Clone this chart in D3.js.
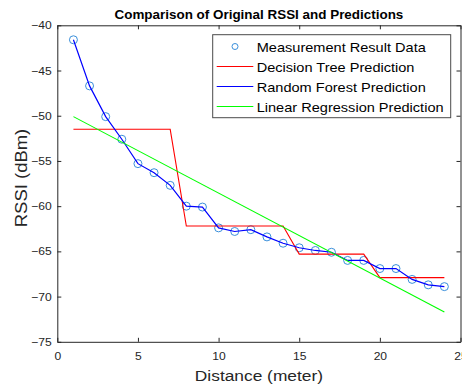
<!DOCTYPE html>
<html>
<head>
<meta charset="utf-8">
<script src="https://cdn.jsdelivr.net/npm/d3@7"></script>
<style>
  html, body { margin: 0; padding: 0; background: #fff; }
  svg { display: block; font-family: "Liberation Sans", Arial, Helvetica, sans-serif; }
</style>
</head>
<body>
<div id="chart"></div>
<script>
// ---------------- data ----------------
const distance = [1,2,3,4,5,6,7,8,9,10,11,12,13,14,15,16,17,18,19,20,21,22,23,24];
const measured = [-41.6,-46.7,-50.1,-52.6,-55.3,-56.3,-57.7,-60.0,-60.1,-62.4,-62.8,-62.6,
                  -63.4,-64.1,-64.6,-64.9,-65.1,-66.0,-66.0,-66.9,-66.9,-68.1,-68.7,-68.9];
const dtPred = [-51.5,-51.5,-51.5,-51.5,-51.5,-51.5,-51.5,-62.2,-62.2,-62.2,-62.2,-62.2,
                -62.2,-62.2,-65.3,-65.3,-65.3,-65.3,-65.3,-67.9,-67.9,-67.9,-67.9,-67.9];
const rfPred = [-41.6,-46.7,-50.1,-52.6,-55.3,-56.3,-57.7,-60.0,-60.1,-62.4,-62.8,-62.6,
                -63.4,-64.1,-64.6,-64.9,-65.1,-66.0,-66.0,-66.9,-66.9,-68.1,-68.7,-68.9];
const lrX = [1, 24];
const lrPred = [-50.1, -71.7];
const xTicks = [0, 5, 10, 15, 20, 25];
const yTicks = [-75, -70, -65, -60, -55, -50, -45, -40];
const legendLabels = ["Measurement Result Data", "Decision Tree Prediction",
                      "Random Forest Prediction", "Linear Regression Prediction"];
const titleText = "Comparison of Original RSSI and Predictions";
const xLabel = "Distance (meter)";
const yLabel = "RSSI (dBm)";

// ---------------- layout ----------------
const W = 462, H = 387;
const plot = {left: 57.3, right: 460.5, top: 25.3, bottom: 341.8};
const axisColor = "#262626";
const markerColor = "#3a8fdb";
const SX = 1.12; // horizontal text stretch

const svg = d3.select("#chart").append("svg").attr("width", W).attr("height", H);

const x = d3.scaleLinear().domain([0, 25]).range([plot.left, plot.right]);
const y = d3.scaleLinear().domain([-75, -40]).range([plot.bottom, plot.top]);

function stext(parent, tx, ty, str, opts) {
  const g = parent.append("g")
    .attr("transform", `translate(${tx},${ty})` + (opts.rotate ? ` rotate(${opts.rotate})` : "") + ` scale(${opts.sx || SX},1)`);
  g.append("text")
    .attr("text-anchor", opts.anchor || "start")
    .attr("font-size", opts.size)
    .attr("font-weight", opts.weight || "normal")
    .attr("fill", opts.fill || axisColor)
    .text(str);
  return g;
}

// white plot background
svg.append("rect").attr("x", plot.left).attr("y", plot.top)
  .attr("width", plot.right - plot.left).attr("height", plot.bottom - plot.top)
  .attr("fill", "#fff");

// clip
svg.append("clipPath").attr("id", "clip").append("rect")
  .attr("x", plot.left).attr("y", plot.top)
  .attr("width", plot.right - plot.left).attr("height", plot.bottom - plot.top);

const gData = svg.append("g").attr("clip-path", "url(#clip)");

// measurement markers
gData.selectAll("circle.meas").data(distance).join("circle")
  .attr("class", "meas")
  .attr("cx", d => x(d))
  .attr("cy", (d, i) => y(measured[i]))
  .attr("r", 4)
  .attr("fill", "none")
  .attr("stroke", markerColor)
  .attr("stroke-width", 1);

const line = d3.line().x(d => x(d[0])).y(d => y(d[1]));

gData.append("path")
  .attr("d", line(distance.map((d, i) => [d, dtPred[i]])))
  .attr("fill", "none").attr("stroke", "#ff0000").attr("stroke-width", 1.1);

gData.append("path")
  .attr("d", line(distance.map((d, i) => [d, rfPred[i]])))
  .attr("fill", "none").attr("stroke", "#0000ff").attr("stroke-width", 1.2);

gData.append("path")
  .attr("d", line(lrX.map((d, i) => [d, lrPred[i]])))
  .attr("fill", "none").attr("stroke", "#00ff00").attr("stroke-width", 1.1);

// ---------------- axes ----------------
const tickFont = 11;
const tsx = 1.1;

const gx = svg.append("g").attr("transform", `translate(0,${plot.bottom})`)
  .call(d3.axisBottom(x).tickValues(xTicks).tickSizeInner(-4).tickSizeOuter(0).tickPadding(10));
const gy = svg.append("g").attr("transform", `translate(${plot.left},0)`)
  .call(d3.axisLeft(y).tickValues(yTicks).tickSizeInner(-4).tickSizeOuter(0).tickPadding(5.6));
const gt = svg.append("g").attr("transform", `translate(0,${plot.top})`)
  .call(d3.axisTop(x).tickValues(xTicks).tickSizeInner(-4).tickSizeOuter(0).tickFormat(""));
const gr = svg.append("g").attr("transform", `translate(${plot.right},0)`)
  .call(d3.axisRight(y).tickValues(yTicks).tickSizeInner(-4).tickSizeOuter(0).tickFormat(""));

[gx, gy, gt, gr].forEach(g => {
  g.selectAll(".domain").attr("stroke", axisColor).attr("stroke-width", 1);
  g.selectAll(".tick line").attr("stroke", axisColor).attr("stroke-width", 1);
  g.selectAll(".tick text").attr("fill", axisColor)
    .attr("font-size", tickFont)
    .attr("font-family", '"Liberation Sans", Arial, Helvetica, sans-serif');
});
gx.selectAll(".tick text").attr("transform", `scale(${tsx},1)`);
gy.selectAll(".tick text").attr("x", -5.6 / tsx).attr("transform", `scale(${tsx},1)`);

// ---------------- titles ----------------
const cx = (plot.left + plot.right) / 2;
stext(svg, cx, 19, titleText, {anchor: "middle", size: 12, weight: "bold", fill: "#000", sx: 1.12});
stext(svg, cx, 381, xLabel, {anchor: "middle", size: 15.5});
stext(svg, 26.5, 178, yLabel, {anchor: "middle", size: 16.5, rotate: -90});

// ---------------- legend ----------------
const lg = {x0: 212.7, y0: 34.7, x1: 450.7, y1: 117.7};
svg.append("rect").attr("x", lg.x0).attr("y", lg.y0)
  .attr("width", lg.x1 - lg.x0).attr("height", lg.y1 - lg.y0)
  .attr("fill", "#fff").attr("stroke", "#4a4a4a").attr("stroke-width", 1);

const legendStyles = [
  {type: "marker", color: markerColor},
  {type: "line", color: "#ff0000"},
  {type: "line", color: "#0000ff"},
  {type: "line", color: "#00ff00"}
];
legendLabels.forEach((lab, i) => {
  const ry = 46.5 + i * 20;
  const st = legendStyles[i];
  if (st.type === "marker") {
    svg.append("circle").attr("cx", 235).attr("cy", ry).attr("r", 3)
      .attr("fill", "none").attr("stroke", st.color).attr("stroke-width", 1);
  } else {
    svg.append("line").attr("x1", 216.7).attr("x2", 253.3).attr("y1", ry).attr("y2", ry)
      .attr("stroke", st.color).attr("stroke-width", 1.1);
  }
  stext(svg, 256.7, ry + 5.5, lab, {size: 13, fill: "#000"});
});
</script>
</body>
</html>
